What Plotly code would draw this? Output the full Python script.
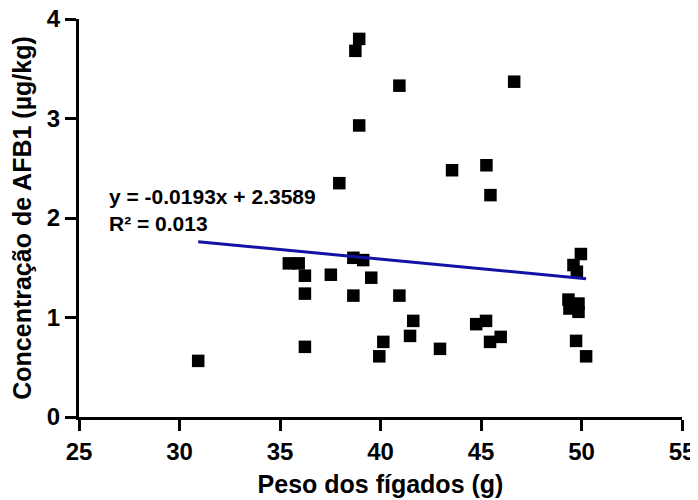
import plotly.graph_objects as go

peso = [38.94, 38.75, 40.94, 38.94, 46.65, 43.56, 45.27, 45.47, 37.95,
        35.44, 35.93, 36.24, 37.53, 38.65, 39.14, 39.54, 36.24, 38.65,
        40.94, 41.63, 41.47, 40.14, 39.94, 36.24, 42.96, 44.76, 45.25,
        45.45, 45.98, 49.97, 49.60, 49.77, 49.35, 49.40, 49.85, 49.85,
        49.73, 50.23, 30.93]
afb1 = [3.80, 3.68, 3.33, 2.93, 3.37, 2.48, 2.53, 2.23, 2.35,
        1.544, 1.544, 1.42, 1.43, 1.60, 1.577, 1.40, 1.24, 1.22,
        1.22, 0.966, 0.815, 0.755, 0.61, 0.705, 0.685, 0.933, 0.966,
        0.755, 0.805, 1.638, 1.527, 1.46, 1.18, 1.09, 1.14, 1.057,
        0.765, 0.61, 0.564]

slope = -0.0193
intercept = 2.3589
eq_text = "y = -0.0193x + 2.3589"
r2_text = "R² = 0.013"

x_ticks = [25, 30, 35, 40, 45, 50, 55]
y_ticks = [0, 1, 2, 3, 4]

xmin, xmax = min(peso), max(peso)
fit_x = [xmin, xmax]
fit_y = [slope * v + intercept for v in fit_x]

FONT = "Arial, Liberation Sans, sans-serif"

fig = go.Figure()
fig.add_trace(go.Scatter(
    x=peso, y=afb1, mode="markers",
    marker=dict(symbol="square", size=12.5, color="black", line=dict(width=0)),
    showlegend=False, cliponaxis=False))
fig.add_trace(go.Scatter(
    x=fit_x, y=fit_y, mode="lines",
    line=dict(color="#1212A6", width=3),
    showlegend=False))

fig.add_annotation(x=0.046, y=0.553, xref="paper", yref="paper",
                   text=eq_text, showarrow=False, xanchor="left", yanchor="middle",
                   font=dict(family=FONT, size=21, color="black", weight="bold"))
fig.add_annotation(x=0.046, y=0.487, xref="paper", yref="paper",
                   text=r2_text, showarrow=False, xanchor="left", yanchor="middle",
                   font=dict(family=FONT, size=21, color="black", weight="bold"))

axis_common = dict(showline=True, linecolor="black", linewidth=3,
                   ticks="outside", ticklen=11, tickwidth=3, tickcolor="black",
                   showgrid=False, zeroline=False, automargin=False,
                   ticklabeloverflow="allow",
                   tickfont=dict(family=FONT, size=24, color="black", weight="bold"))

fig.update_xaxes(range=[25, 55], tickvals=x_ticks, ticktext=[str(t) for t in x_ticks],
                 title=dict(text="Peso dos fígados (g)", standoff=12,
                            font=dict(family=FONT, size=25, color="black", weight="bold")),
                 **axis_common)
fig.update_yaxes(range=[0, 4], tickvals=y_ticks, ticktext=[str(t) for t in y_ticks],
                 title=dict(text="Concentração de AFB1 (µg/kg)", standoff=11,
                            font=dict(family=FONT, size=25, color="black", weight="bold")),
                 **axis_common)

# page body adds an 8 px offset; figure sized so the plot area lands where the reference has it
fig.update_layout(width=690, height=492,
                  margin=dict(l=71, r=16, t=11, b=83),
                  plot_bgcolor="white", paper_bgcolor="white")

fig.write_html("out.html")
